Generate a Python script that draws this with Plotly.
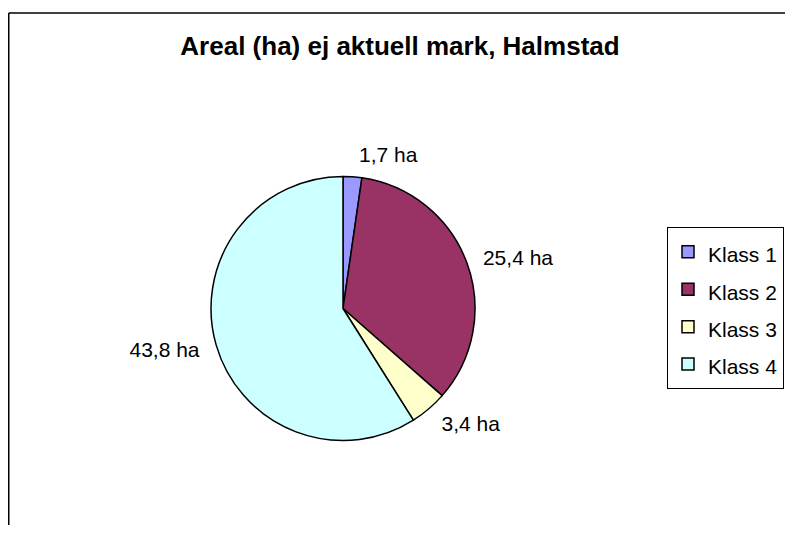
import plotly.graph_objects as go

labels = ["Klass 1", "Klass 2", "Klass 3", "Klass 4"]
values = [1.7, 25.4, 3.4, 43.8]
colors = ["#9999FF", "#993366", "#FFFFCC", "#CCFFFF"]
title = "Areal (ha) ej aktuell mark, Halmstad"

# page body has an 8px margin, so the figure is drawn 8px in from the window edge;
# keep it small enough that the page never scrolls
W, H = 777, 517
FONT = "Arial, Liberation Sans, sans-serif"

cx, cy, r = 335, 300.5, 132      # pie centre / radius in figure pixels
rl = 143                         # radius used to place the outside value labels


def dom(rad):
    return dict(x=[(cx - rad) / W, (cx + rad) / W],
                y=[1 - (cy + rad) / H, 1 - (cy - rad) / H])


legend_labels = ["<span style='font-size:21px'>%s</span>" % l for l in labels]

fig = go.Figure()
fig.add_trace(go.Pie(
    labels=legend_labels,
    values=values,
    customdata=labels,
    sort=False,
    direction="clockwise",
    rotation=0,
    marker=dict(colors=colors, line=dict(color="black", width=1.5)),
    textinfo="none",
    hovertemplate="%{customdata}: %{value} ha<extra></extra>",
    domain=dom(r),
    automargin=False,
))
fig.add_trace(go.Pie(
    labels=legend_labels,
    values=values,
    sort=False,
    direction="clockwise",
    rotation=0,
    marker=dict(colors=["rgba(0,0,0,0)"] * len(values), line=dict(width=0)),
    texttemplate="%{value:.1f} ha",
    textposition="outside",
    outsidetextfont=dict(family=FONT, size=21, color="black"),
    hoverinfo="skip",
    showlegend=False,
    domain=dom(rl),
    automargin=False,
))

top = 1 - 5 / H
fig.update_layout(
    width=W, height=H,
    margin=dict(l=0, r=0, t=0, b=0),
    paper_bgcolor="white",
    separators=", ",
    title=dict(text="<b>" + title + "</b>", x=392 / W, xanchor="center", y=1 - 38 / H, yanchor="middle",
               font=dict(family=FONT, size=26, color="black")),
    legend=dict(x=776 / W, y=1 - 219 / H, xanchor="right", yanchor="top",
                bordercolor="black", borderwidth=1, bgcolor="white",
                font=dict(family=FONT, size=26.5, color="black"),
                traceorder="normal"),
    shapes=[
        dict(type="line", xref="paper", yref="paper", x0=0.75 / W, x1=0.75 / W, y0=-0.05, y1=top,
             line=dict(color="black", width=1.5)),
        dict(type="line", xref="paper", yref="paper", x0=0.75 / W, x1=1.05, y0=top, y1=top,
             line=dict(color="black", width=1.5)),
    ],
)

fig.write_html("out.html")
